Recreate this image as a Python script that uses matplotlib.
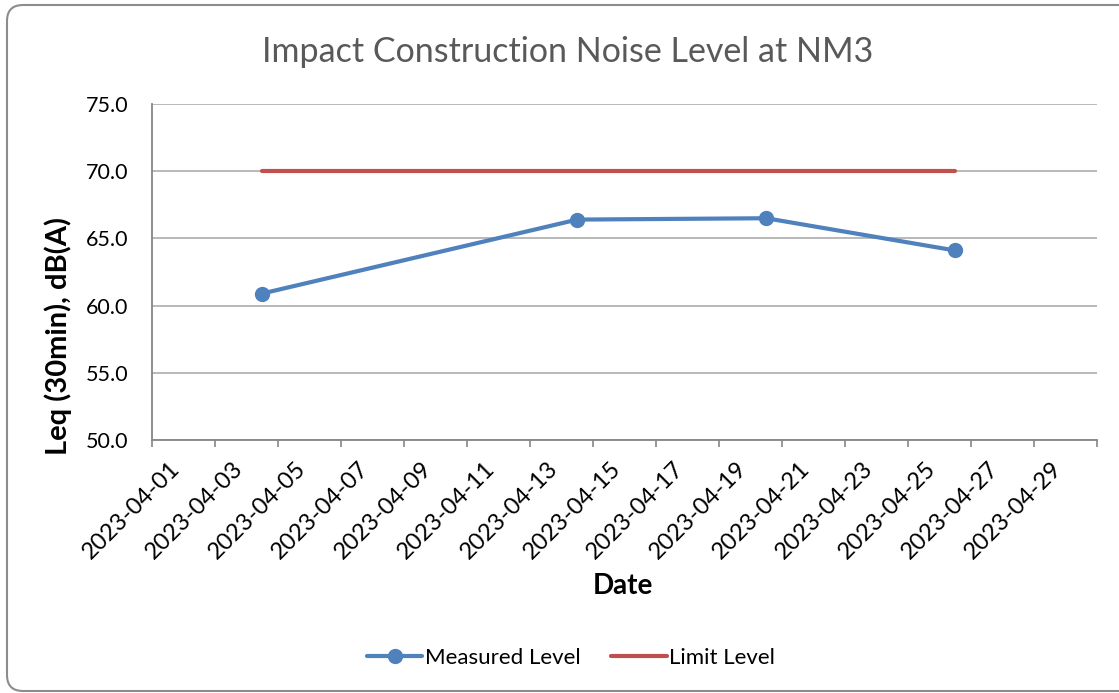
import numpy as np
import pandas as pd
import matplotlib
matplotlib.use("Agg")
import matplotlib.pyplot as plt
import matplotlib.dates as mdates
from matplotlib.patches import FancyBboxPatch
from matplotlib.transforms import IdentityTransform, ScaledTranslation

plt.rcParams['font.family'] = ['Lato', 'DejaVu Sans']

# data
dates = pd.to_datetime(["2023-04-04 12:00", "2023-04-14 12:00",
                        "2023-04-20 12:00", "2023-04-26 12:00"])
measured = [60.9, 66.4, 66.5, 64.1]
limit = [70.0, 70.0, 70.0, 70.0]

blue = "#4F81BD"
red = "#C0504D"
grid_c = "#B3B3B3"
axis_c = "#868686"

fig = plt.figure(figsize=(11.19, 6.93), dpi=100)
ax = fig.add_axes([152/1119, 1 - 440/693, (1097-152)/1119, (440-104)/693])

# outer rounded border like the spreadsheet chart frame (pixel coords)
frame = FancyBboxPatch((7, 2), 1200, 686, boxstyle="round,pad=0,rounding_size=16",
                       transform=IdentityTransform(), fill=False, edgecolor="#8C8C8C",
                       linewidth=1.5, clip_on=False, zorder=-1)
fig.patches.append(frame)

ax.plot(dates, limit, color=red, lw=3, solid_capstyle='round', label="Limit Level", zorder=3)
ax.plot(dates, measured, color=blue, lw=3, marker='o', markersize=10,
        solid_capstyle='round', label="Measured Level", zorder=4)

ax.set_xlim(pd.Timestamp("2023-04-01"), pd.Timestamp("2023-05-01"))
ax.set_ylim(50, 75)
ax.set_yticks(np.arange(50, 75.1, 5))
ax.yaxis.set_major_formatter(matplotlib.ticker.FormatStrFormatter('%.1f'))

ticks = pd.date_range("2023-04-01", "2023-04-29", freq="2D")
ax.set_xticks(ticks)
ax.set_xticklabels([d.strftime("%Y-%m-%d") for d in ticks], rotation=45,
                   ha='center', va='center', rotation_mode='anchor', fontsize=17)
ax.xaxis.set_minor_locator(matplotlib.ticker.FixedLocator([mdates.date2num(pd.Timestamp("2023-05-01"))]))
ax.tick_params(axis='x', which='both', direction='out', length=5, color=axis_c, width=1.2, pad=0)
ax.tick_params(axis='y', length=0, labelsize=15.5, pad=17)

# move rotated labels so their centre sits down-left of each tick, as in the spreadsheet
shift = ScaledTranslation(-0.21, -0.63, fig.dpi_scale_trans)
for lab in ax.get_xticklabels():
    lab.set_transform(lab.get_transform() + shift)

ax.grid(axis='y', color=grid_c, lw=1.3)
ax.set_axisbelow(True)
for s in ['top', 'right']:
    ax.spines[s].set_visible(False)
for s in ['left', 'bottom']:
    ax.spines[s].set_color(axis_c)
    ax.spines[s].set_linewidth(1.3)

ax.set_ylabel("Leq (30min), dB(A)", fontsize=21, fontweight='bold')
ax.yaxis.set_label_coords(-0.085, 0.31)
ax.set_xlabel("Date", fontsize=20, fontweight='bold')
ax.xaxis.set_label_coords(0.498, -0.396)
fig.text(568/1119, 1 - 52/693, "Impact Construction Noise Level at NM3", ha='center', va='center',
         fontsize=24.5, color="#595959")

handles, labels = ax.get_legend_handles_labels()
fig.legend(handles[::-1], labels[::-1], loc='center', bbox_to_anchor=(571/1119, 1 - 658/693), ncol=2,
           frameon=False, fontsize=16, handlelength=2.5, columnspacing=1.4, handletextpad=0.1)

fig.savefig("out.png", dpi=100)
